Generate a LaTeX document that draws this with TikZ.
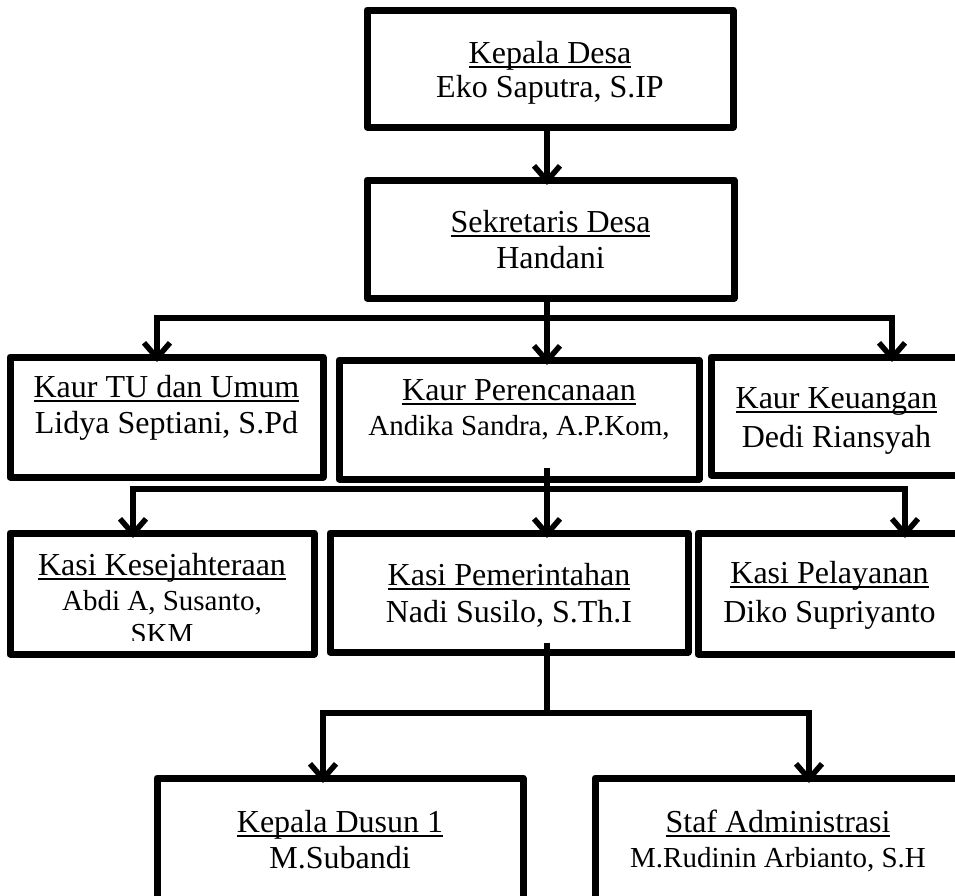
\documentclass[tikz,border=0pt]{standalone}
\usepackage{fontspec}
\setmainfont{Liberation Serif}
\usetikzlibrary{arrows.meta,calc}
\newcommand\myul[1]{\setbox0=\hbox{#1}\rlap{\rule[-5pt]{\wd0}{2pt}}\box0}
\begin{document}
\begin{tikzpicture}[x=1pt,y=-1pt,
  box/.style={draw, line width=7pt, rectangle, outer sep=0pt, inner sep=0pt, line join=round},
  big/.style={font=\fontsize{32}{38}\selectfont, anchor=base, inner sep=0pt},
  small/.style={font=\fontsize{29}{35}\selectfont, anchor=base, inner sep=0pt},
  conn/.style={line width=6pt},
  arr/.style={line width=6pt, -{Straight Barb[length=15pt,width=26pt,line width=5.5pt]}, shorten >=-5pt}]
\useasboundingbox (0,0) rectangle (955,895);
\clip (0,0) rectangle (955,895);
% boxes
\node[box, minimum width=366pt, minimum height=117pt] (kd) at (550,68.5) {};
\node[box, minimum width=367pt, minimum height=118pt] (sd) at (550.5,239) {};
\node[box, minimum width=313pt, minimum height=120pt] (kt) at (166.5,417) {};
\node[box, minimum width=360pt, minimum height=119pt] (kp) at (519,419.5) {};
\node[box, minimum width=251pt, minimum height=118pt] (kk) at (836.5,416) {};
\node[box, minimum width=304pt, minimum height=121pt] (ks) at (162,593.5) {};
\node[box, minimum width=358pt, minimum height=119pt] (kpm) at (509,592.5) {};
\node[box, minimum width=263pt, minimum height=121pt] (kpl) at (829.5,593.5) {};
\node[box, minimum width=366pt, minimum height=142pt] (kdu) at (340,849) {};
\node[box, minimum width=366pt, minimum height=142pt] (sa) at (778,849) {};
% texts
\node[big] (t1a) at ($(kd.north)+(0,53)$) {\myul{Kepala Desa}};
\node[big] (t1b) at ($(kd.north)+(0,87)$) {Eko Saputra, S.IP};
\node[big] (t2a) at ($(sd.north)+(0,52)$) {\myul{Sekretaris Desa}};
\node[big] (t2b) at ($(sd.north)+(0,88)$) {Handani};
\node[big] (t3a) at ($(kt.north)+(0,40)$) {\myul{Kaur TU dan Umum}};
\node[big] (t3b) at ($(kt.north)+(0,76)$) {Lidya Septiani, S.Pd};
\node[big] (t4a) at ($(kp.north)+(0,40)$) {\myul{Kaur Perencanaan}};
\node[small] (t4b) at ($(kp.north)+(0,75)$) {Andika Sandra, A.P.Kom,};
\node[big] (t5a) at ($(kk.north)+(0,51)$) {\myul{Kaur Keuangan}};
\node[big] (t5b) at ($(kk.north)+(0,90)$) {Dedi Riansyah};
\node[big] (t6a) at ($(ks.north)+(0,42)$) {\myul{Kasi Kesejahteraan}};
\node[small] (t6b) at ($(ks.north)+(0,77)$) {Abdi A, Susanto,};
\begin{scope}
\clip (10,533) rectangle (314,640);
\node[small] (t6c) at ($(ks.north)+(0,110)$) {SKM};
\end{scope}
\node[big] (t7a) at ($(kpm.north)+(0,52)$) {\myul{Kasi Pemerintahan}};
\node[big] (t7b) at ($(kpm.north)+(0,89)$) {Nadi Susilo, S.Th.I};
\node[big] (t8a) at ($(kpl.north)+(0,50)$) {\myul{Kasi Pelayanan}};
\node[big] (t8b) at ($(kpl.north)+(0,89)$) {Diko Supriyanto};
\node[big] (t9a) at ($(kdu.north)+(0,54)$) {\myul{Kepala Dusun 1}};
\node[big] (t9b) at ($(kdu.north)+(0,90)$) {M.Subandi};
\node[big] (t10a) at ($(sa.north)+(0,54)$) {\myul{Staf Administrasi}};
\node[small] (t10b) at ($(sa.north)+(0,89)$) {M.Rudinin Arbianto, S.H};
% connector points
\coordinate (k1) at (547,127);
\coordinate (s1) at (547,298);
\coordinate (b1m) at (547,318);
\coordinate (b1l) at (157,318);
\coordinate (b1r) at (892,318);
\coordinate (c2) at (547,468);
\coordinate (b2m) at (547,489);
\coordinate (b2l) at (133,489);
\coordinate (b2r) at (905,489);
\coordinate (c3) at (547,643);
\coordinate (b3m) at (547,713);
\coordinate (b3l) at (323,713);
\coordinate (b3r) at (809,713);
% connectors
\draw[arr] (k1) -- (k1 |- sd.north);
\draw[arr] (s1) -- (b1m) -- (b1m |- kp.north);
\draw[arr] (b1m) -- (b1l) -- (b1l |- kt.north);
\draw[arr] (b1m) -- (b1r) -- (b1r |- kk.north);
\draw[arr] (c2) -- (b2m) -- (b2m |- kpm.north);
\draw[arr] (b2m) -- (b2l) -- (b2l |- ks.north);
\draw[arr] (b2m) -- (b2r) -- (b2r |- kpl.north);
\draw[conn] (c3) -- (b3m);
\draw[arr] (b3m) -- (b3l) -- (b3l |- kdu.north);
\draw[arr] (b3m) -- (b3r) -- (b3r |- sa.north);
\end{tikzpicture}
\end{document}
